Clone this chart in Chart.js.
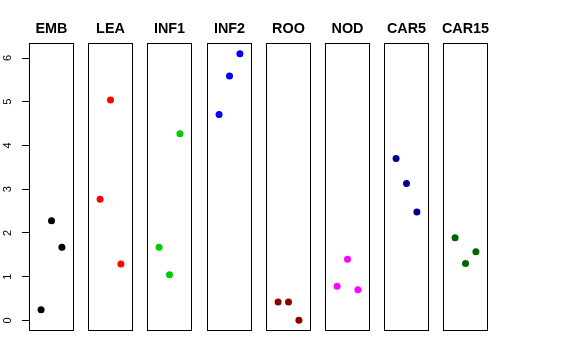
<!DOCTYPE html>
<html>
<head>
<meta charset="utf-8">
<script src="https://cdn.jsdelivr.net/npm/chart.js@4.4.1/dist/chart.umd.min.js"></script>
<style>
  html, body { margin: 0; padding: 0; background: #fff; }
  #wrap { position: relative; width: 576px; height: 360px; overflow: hidden; background: #fff; }
  #wrap canvas { position: absolute; top: 0; }
</style>
</head>
<body>
<div id="wrap"></div>
<script>
// ---- data ----
const categories = ['EMB', 'LEA', 'INF1', 'INF2', 'ROO', 'NOD', 'CAR5', 'CAR15'];
const xPositions = [1, 2, 3];
const EMB   = [0.24, 2.28, 1.67];
const LEA   = [2.77, 5.04, 1.29];
const INF1  = [1.67, 1.04, 4.27];
const INF2  = [4.71, 5.59, 6.10];
const ROO   = [0.42, 0.42, 0.00];
const NOD   = [0.78, 1.40, 0.70];
const CAR5  = [3.70, 3.13, 2.48];
const CAR15 = [1.89, 1.30, 1.57];
const yTicks = [0, 1, 2, 3, 4, 5, 6];

const seriesValues = [EMB, LEA, INF1, INF2, ROO, NOD, CAR5, CAR15];
const colors = ['#000000', '#FF0000', '#00CD00', '#0000FF', '#8B0000', '#FF00FF', '#00008B', '#006400'];

// ---- layout ----
const AXIS_W = 29;
const PANEL_W = 45;
const PANEL_STEP = 59.2;
const SIDE = 7;
const TOP = 43, BOTTOM_PAD = 29;
const TITLE_Y = 29.5;

const boxPlugin = {
  id: 'box',
  afterDatasetsDraw(chart) {
    const a = chart.chartArea, ctx = chart.ctx;
    ctx.save();
    ctx.strokeStyle = '#000';
    ctx.lineWidth = 1;
    ctx.strokeRect(a.left + 0.5, a.top + 0.5, a.right - a.left - 1, a.bottom - a.top - 1);
    const t = chart.options.plugins.panelTitle;
    ctx.fillStyle = '#000';
    ctx.font = 'bold 14.4px "Liberation Sans", Arial, sans-serif';
    ctx.textAlign = 'center';
    ctx.textBaseline = 'middle';
    ctx.fillText(t.text, (a.left + a.right) / 2, TITLE_Y);
    ctx.restore();
  }
};

const wrap = document.getElementById('wrap');
categories.forEach((name, i) => {
  const first = i === 0;
  const boxLeft = Math.round(AXIS_W + PANEL_STEP * i);
  const cv = document.createElement('canvas');
  const left = first ? 0 : boxLeft - SIDE;
  const width = first ? boxLeft + PANEL_W + SIDE : PANEL_W + 2 * SIDE;
  cv.style.left = left + 'px';
  cv.style.width = width + 'px';
  cv.style.height = '360px';
  cv.width = width; cv.height = 360;
  wrap.appendChild(cv);

  const yScale = {
    type: 'linear',
    display: first,
    min: -0.244,
    max: 6.344,
    afterBuildTicks(scale) { scale.ticks = yTicks.map(v => ({ value: v })); },
    border: { display: false },
    grid: { drawOnChartArea: false, drawTicks: true, tickLength: 7, color: '#000', lineWidth: 1 },
    ticks: {
      minRotation: 90,
      maxRotation: 90,
      crossAlign: 'center',
      padding: 11,
      color: '#000',
      font: { family: 'Liberation Sans, Arial, sans-serif', size: 11 },
      callback: (v) => String(v)
    }
  };
  if (first) yScale.afterFit = (scale) => { scale.width = AXIS_W; };

  new Chart(cv, {
    type: 'scatter',
    data: {
      datasets: [{
        data: xPositions.map((x, k) => ({ x: x, y: seriesValues[i][k] })),
        backgroundColor: colors[i],
        borderWidth: 0,
        pointRadius: 3.5,
        pointHoverRadius: 3.5
      }]
    },
    plugins: [boxPlugin],
    options: {
      responsive: false,
      animation: false,
      devicePixelRatio: 1,
      layout: {
        autoPadding: false,
        padding: { top: TOP, bottom: BOTTOM_PAD, left: first ? 0 : SIDE, right: SIDE }
      },
      plugins: {
        legend: { display: false },
        tooltip: { enabled: false },
        title: { display: false },
        panelTitle: { text: name }
      },
      scales: {
        x: { type: 'linear', display: false, min: -0.16, max: 4.16 },
        y: yScale
      }
    }
  });
});
</script>
</body>
</html>
